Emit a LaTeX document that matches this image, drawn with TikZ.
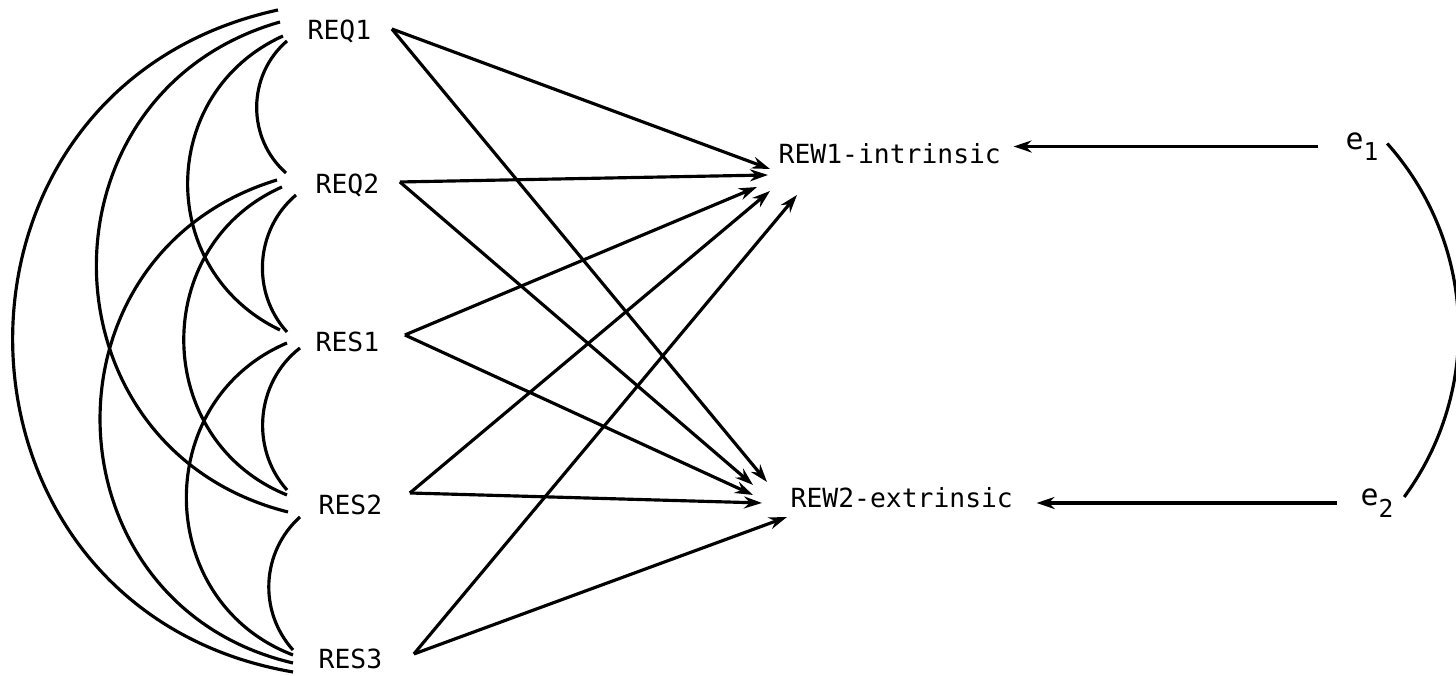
\documentclass[tikz,border=0pt]{standalone}
\usepackage{fontspec}
\setmonofont{DejaVu Sans Mono}
\usetikzlibrary{arrows.meta}

\tikzset{
  var/.style={anchor=west, inner sep=0pt, font=\ttfamily\fontsize{7.5}{9}\selectfont},
  err/.style={anchor=west, inner sep=0pt, font=\ttfamily\fontsize{8.5}{10}\selectfont},
  arr/.style={-{Stealth[length=1.8mm,width=1.2mm]}, line width=0.9pt},
  cov/.style={line width=0.9pt},
}
\newcommand{\esub}[1]{e\raisebox{-.7ex}{\fontsize{7}{8}\selectfont #1}}

\begin{document}
\begin{tikzpicture}[x=0.1mm, y=0.1mm]
  \useasboundingbox (0,0) rectangle (1456,676);
  % observed variables
  \node[var] (req1) at (307,645) {REQ1};
  \node[var] (req2) at (315,491) {REQ2};
  \node[var] (res1) at (315,334) {RES1};
  \node[var] (res2) at (318,171) {RES2};
  \node[var] (res3) at (318,17)  {RES3};
  \node[var] (rew1) at (778,522) {REW1-intrinsic};
  \node[var] (rew2) at (790,178) {REW2-extrinsic};
  % residuals
  \node[err] (e1) at (1345,529.5) {\esub{1}};
  \node[err] (e2) at (1360,173)   {\esub{2}};
  % correlations on the left
  \foreach \a/\ax/\ay/\b/\bx/\by/\ang/\lo in {
      req1/-20/-10/req2/-29/12/49/1.02, req2/-19/-10/res1/-28/10/46/1.0,
      res1/-15/-6/res2/-31/15/47/1.0,   res2/-18/-12/res3/-25/9/45/1.0,
      req1/-24/-5/res1/-35/12/65/1.2,   req2/-33/-2/res2/-31/10/67/1.21,
      res1/-28/-1/res3/-25/4/68/1.22,   req1/-27/9/res2/-30/-7/75/1.35,
      req2/-38/5/res3/-25/-4/75/1.35,   req1/-29/21/res3/-25/-13/79/1.43}
    \draw[cov] ([shift={(\ax,\ay)}]\a.west) to[bend right=\ang, looseness=\lo]
               ([shift={(\bx,\by)}]\b.west);
  % paths to the rewards
  \foreach \a/\gx/\gy/\b/\tx/\ty in {
      req1/20/2/rew1/-8/-15,   req1/20/2/rew2/-23/16,
      req2/20/3/rew1/-10/-21,  req2/20/3/rew2/-37/13,
      res1/25/7/rew1/-21/-33,  res1/25/7/rew2/-37/3,
      res2/27/12/rew1/-8/-37,  res2/27/12/rew2/-28/-5,
      res3/31/5/rew1/19/-41,   res3/31/5/rew2/-3/-19}
    \draw[arr] ([shift={(\gx,\gy)}]\a.east) -- ([shift={(\tx,\ty)}]\b.west);
  % residual arrows
  \draw[arr, shorten <=2.7mm, shorten >=1.2mm] (e1.west) -- (e1.west -| rew1.east);
  \draw[arr, shorten <=2.3mm, shorten >=2.3mm] (e2.west) -- (e2.west -| rew2.east);
  \draw[cov] ([shift={(8,3)}]e1.east) to[bend left=39, looseness=0.96]
             ([shift={(10,6)}]e2.east);
\end{tikzpicture}
\end{document}
